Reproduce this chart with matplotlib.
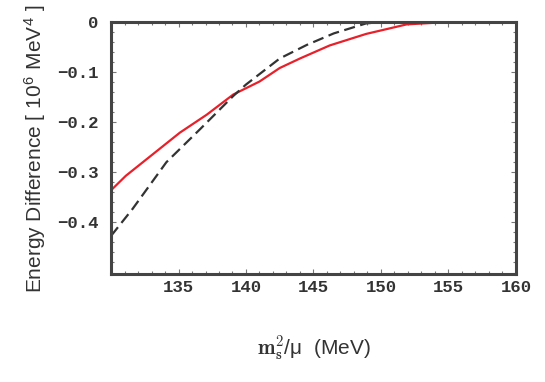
import numpy as np
import matplotlib.pyplot as plt
from matplotlib.ticker import MultipleLocator

plt.rcParams['mathtext.fontset'] = 'cm'

# curves
red_x = [130.0, 131.1, 133.1, 135.1, 137.1, 139.05, 141.0, 142.5, 144.0, 146.2, 148.9, 151.9, 155.1]
red_y = [-0.336, -0.307, -0.264, -0.221, -0.185, -0.145, -0.119, -0.092, -0.073, -0.047, -0.024, -0.005, 0.0]

dash_x = [130.0, 131.6, 134.1, 136.6, 139.05, 140.0, 142.5, 144.5, 146.5, 148.9, 150.2]
dash_y = [-0.427, -0.373, -0.280, -0.214, -0.148, -0.125, -0.073, -0.046, -0.023, -0.003, 0.0]

x_ticks = [135, 140, 145, 150, 155, 160]
y_ticks = [0, -0.1, -0.2, -0.3, -0.4]
y_tick_labels = ['0', '\u22120.1', '\u22120.2', '\u22120.3', '\u22120.4']

fig = plt.figure(figsize=(5.45, 3.82), dpi=100)
ax = fig.add_axes([0.2037, 0.2827, 0.743, 0.66])

ax.plot(red_x, red_y, color='#e8202a', lw=1.6, solid_capstyle='butt')
ax.plot(dash_x, dash_y, color='#333333', lw=1.6, dashes=(5, 2.5))

ax.set_xlim(130, 160)
ax.set_ylim(-0.503, 0)

tick_font = dict(family='Liberation Mono', weight='bold', size=12.5, color='#333333')
ax.set_xticks(x_ticks)
ax.set_xticklabels([str(t) for t in x_ticks], **tick_font)
ax.set_yticks(y_ticks)
ax.set_yticklabels(y_tick_labels, **tick_font)
ax.xaxis.set_minor_locator(MultipleLocator(1))
ax.yaxis.set_minor_locator(MultipleLocator(0.02))
ax.tick_params(which='both', direction='in', top=True, right=True, color='#777777', width=0.8)
ax.tick_params(which='major', length=3.5)
ax.tick_params(axis='y', which='major', pad=9)
ax.tick_params(axis='x', which='major', pad=4)
ax.tick_params(which='minor', length=2)

for s in ax.spines.values():
    s.set_linewidth(2.2)
    s.set_color('#444444')

ax.set_ylabel('Energy Difference [ 10$^{\\mathregular{6}}$ MeV$^{\\mathregular{4}}$ ]',
              family='Liberation Sans', size=15, color='#333333', labelpad=6)
ax.set_xlabel(r'$\mathbf{m_s^2}$/μ  (MeV)', family='Liberation Sans', size=15,
              color='#333333', labelpad=28)

fig.savefig('out.png', dpi=100)
